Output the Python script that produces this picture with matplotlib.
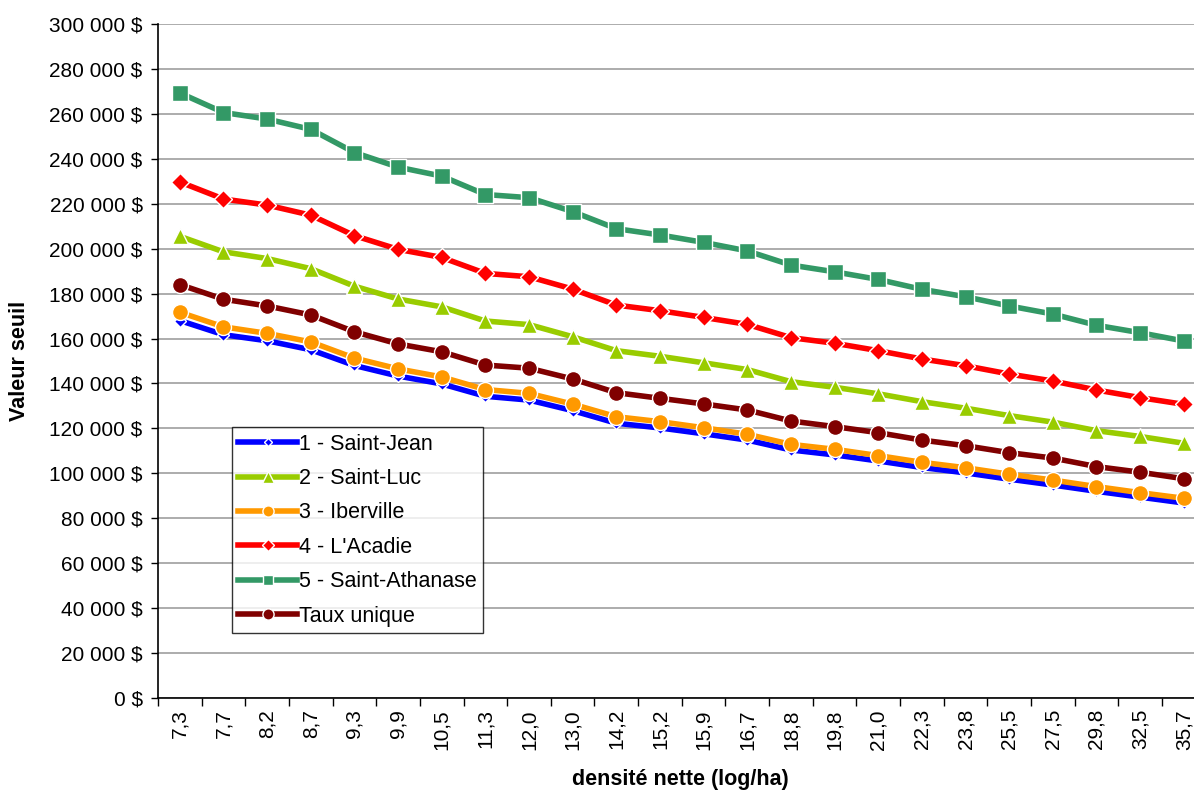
import matplotlib
matplotlib.use("Agg")
import matplotlib.pyplot as plt
from matplotlib.ticker import FuncFormatter, MultipleLocator

plt.rcParams['font.family'] = ['Liberation Sans', 'DejaVu Sans']

categories = ["7,3", "7,7", "8,2", "8,7", "9,3", "9,9", "10,5", "11,3", "12,0", "13,0",
              "14,2", "15,2", "15,9", "16,7", "18,8", "19,8", "21,0", "22,3", "23,8",
              "25,5", "27,5", "29,8", "32,5", "35,7"]

saint_jean = [168.0, 161.7, 159.0, 155.0, 148.0, 143.3, 139.8, 134.3, 132.6, 127.9,
              122.3, 120.2, 117.6, 114.8, 110.4, 108.2, 105.5, 102.6, 100.2, 97.4,
              94.8, 92.0, 89.4, 86.8]
saint_luc = [205.5, 198.6, 195.6, 191.1, 183.3, 177.6, 174.1, 167.8, 166.2, 160.8,
             154.6, 152.1, 149.2, 146.2, 140.8, 138.3, 135.4, 131.9, 129.0, 125.7,
             122.8, 119.0, 116.4, 113.4]
iberville = [171.7, 165.2, 162.3, 158.5, 151.3, 146.5, 142.9, 137.3, 135.6, 130.8,
             125.2, 123.0, 120.3, 117.4, 112.9, 110.7, 107.9, 104.9, 102.5, 99.6,
             97.0, 94.1, 91.4, 88.9]
acadie = [229.7, 222.1, 219.4, 214.9, 205.8, 199.7, 196.1, 189.0, 187.5, 182.0,
          174.9, 172.4, 169.4, 166.3, 160.4, 157.9, 154.6, 150.9, 147.9, 144.2,
          141.1, 137.1, 133.7, 130.7]
athanase = [269.3, 260.6, 257.7, 253.1, 242.8, 236.3, 232.3, 224.1, 222.7, 216.5,
            208.9, 206.1, 202.8, 199.0, 192.7, 189.7, 186.3, 181.9, 178.6, 174.5,
            170.9, 165.9, 162.6, 158.9]
taux_unique = [184.0, 177.5, 174.5, 170.5, 163.0, 157.6, 154.1, 148.2, 146.8, 142.0,
               135.9, 133.4, 130.9, 128.2, 123.3, 120.8, 118.1, 114.8, 112.3, 109.2,
               106.8, 103.0, 100.5, 97.6]

series = [
    ("1 - Saint-Jean", saint_jean, "#0000ff", "D", 6),
    ("2 - Saint-Luc", saint_luc, "#99cc00", "^", 11.5),
    ("3 - Iberville", iberville, "#ff9900", "o", 11.5),
    ("4 - L'Acadie", acadie, "#ff0000", "D", 9),
    ("5 - Saint-Athanase", athanase, "#339966", "s", 11),
    ("Taux unique", taux_unique, "#800000", "o", 11.5),
]

W, H = 1194, 791
fig = plt.figure(figsize=(W / 100, H / 100), dpi=100)
left, right, top, bottom = 158, 1205.6, 24, 698
ax = fig.add_axes([left / W, 1 - bottom / H, (right - left) / W, (bottom - top) / H])

x = list(range(len(categories)))
for label, vals, color, marker, ms in series:
    ax.plot(x, [v * 1000 for v in vals], color=color, lw=4.0, marker=marker,
            markersize=ms, markerfacecolor=color, markeredgecolor="white",
            markeredgewidth=1.0, label=label, solid_joinstyle="miter", clip_on=False)

ax.set_xlim(-0.5, len(categories) - 0.5)
ax.set_ylim(0, 300000)
ax.yaxis.set_major_locator(MultipleLocator(20000))
ax.yaxis.set_major_formatter(FuncFormatter(
    lambda v, p: ("{:,.0f}".format(v).replace(",", " ") + " $")))
ax.set_xticks(x)
ax.set_xticklabels(categories, rotation=90, fontsize=15)
ax.set_xticks([i + 0.5 for i in range(-1, len(categories))], minor=True)
ax.tick_params(axis="x", which="major", length=0, pad=8)
ax.tick_params(axis="x", which="minor", length=6, width=1, direction="out", color="black")
ax.tick_params(axis="y", length=5, width=1, direction="out", labelsize=15, pad=6)

ax.grid(axis="y", color="#a6a6a6", lw=1.3)
ax.set_axisbelow(True)
for s in ["top", "right"]:
    ax.spines[s].set_visible(False)
for s in ["left", "bottom"]:
    ax.spines[s].set_color("black")
    ax.spines[s].set_linewidth(1.2)
    ax.spines[s].set_zorder(5)

fig.text(20 / W, 1 - 361 / H, "Valeur seuil", rotation=90, fontsize=15.5,
         fontweight="bold", ha="center", va="center")
fig.text(680 / W, 1 - 779 / H, "densité nette (log/ha)", fontsize=15.5,
         fontweight="bold", ha="center", va="center")

leg = ax.legend(loc="lower left", bbox_to_anchor=((232 - left) / (right - left), (bottom - 633) / (bottom - top)),
                borderaxespad=0, fontsize=15.5, frameon=True, fancybox=False,
                edgecolor="black", handlelength=2.7, handletextpad=0.1,
                labelspacing=0.62, borderpad=0.3, numpoints=1, markerscale=0.7)
leg.get_frame().set_linewidth(1.0)
leg.set_zorder(10)

fig.savefig("out.png", dpi=100)
